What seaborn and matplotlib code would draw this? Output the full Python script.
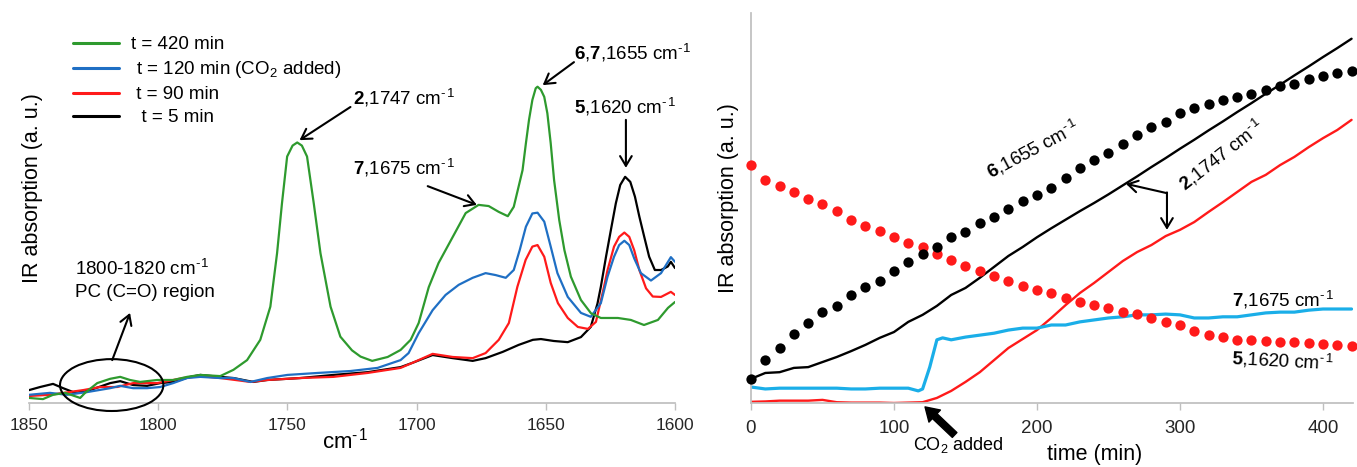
import matplotlib
matplotlib.use("Agg")
import matplotlib.pyplot as plt
from matplotlib.patches import Ellipse
import seaborn as sns

# ---- left panel: IR spectra (wavenumber, absorbance a.u.) ----
green_wn = [1850, 1844.6, 1840.7, 1836, 1830.2, 1828.3, 1823.6, 1818.6, 1814.7, 1810.9,
            1807, 1800.4, 1794.2, 1788.8, 1783.7, 1776, 1770.9, 1765.6, 1760.5, 1756.6,
            1754, 1752.1, 1750.1, 1748, 1746.2, 1744.4, 1742.4, 1739.8, 1737.2, 1733.3,
            1729.5, 1725, 1721.7, 1717.2, 1711.2, 1706.2, 1702.3, 1699.2, 1695.3, 1691.5,
            1686, 1681, 1676, 1672.1, 1668.2, 1664.7, 1662.4, 1659, 1657.7, 1656.5,
            1655.2, 1653.9, 1653.2, 1651.9, 1650.6, 1649.4, 1648.1, 1646.8, 1644.8, 1642.8,
            1640.3, 1636.4, 1632.5, 1628.7, 1622.1, 1617.1, 1612, 1606.6, 1602.7, 1600]
green_abs = [1.3, 1.0, 2.1, 2.6, 1.3, 2.6, 5.1, 6.2, 6.7, 5.9,
             5.4, 5.9, 5.9, 6.7, 7.2, 6.9, 8.5, 11.0, 16.2, 24.7,
             38.4, 51.2, 63.2, 66.0, 66.8, 66.0, 63.2, 51.2, 38.4, 24.7,
             17.0, 13.5, 11.9, 10.8, 11.8, 13.6, 16.2, 20.5, 29.7, 35.9,
             42.6, 48.7, 50.8, 50.5, 49.0, 47.9, 50.3, 59.7, 66.6, 72.6,
             77.7, 80.7, 81.1, 80.3, 78.5, 74.3, 66.6, 57.2, 46.9, 39.2,
             32.4, 26.4, 23.0, 21.8, 21.8, 21.3, 20.0, 21.3, 24.4, 25.9]

blue_wn = [1850, 1841.9, 1835.3, 1827.5, 1818.6, 1814.7, 1809.7, 1804.3, 1799.2, 1794.2,
           1788.8, 1783.7, 1776, 1770.9, 1764.3, 1757.8, 1750, 1738.4, 1725.6, 1715.1,
           1706.2, 1703.1, 1699.2, 1693.8, 1688.8, 1683.7, 1678.3, 1673.3, 1669.4, 1665.5,
           1662.4, 1660.1, 1657.7, 1655.2, 1653.2, 1650.6, 1648.1, 1645.5, 1641.5, 1636.4,
           1632.6, 1628.7, 1626.1, 1623.6, 1621.6, 1619.6, 1617.7, 1615.8, 1613.2, 1609.3,
           1605.4, 1601.6, 1600]
blue_abs = [2.1, 2.6, 2.1, 2.8, 3.8, 4.4, 3.8, 3.8, 4.1, 5.1,
            6.4, 6.7, 6.4, 6.4, 5.4, 6.4, 7.2, 7.7, 8.2, 9.0,
            11.0, 12.8, 17.9, 23.8, 27.7, 30.3, 32.1, 33.3, 32.8, 32.1,
            34.1, 39.2, 45.2, 48.6, 48.8, 46.5, 40.1, 33.3, 27.2, 23.1,
            22.1, 25.6, 32.4, 37.5, 40.5, 41.6, 40.5, 37.1, 33.3, 31.4,
            33.3, 37.4, 36.2]

red_wn = [1850, 1841.9, 1829.1, 1822.5, 1815.9, 1809.7, 1800.4, 1790.3, 1783.7, 1776,
          1764.3, 1757.8, 1745, 1732.2, 1719, 1706.2, 1701.6, 1693.8, 1686, 1678.3,
          1673.3, 1668.2, 1664.3, 1661, 1657.8, 1655.2, 1653.2, 1650.6, 1648.1, 1645.3,
          1641.5, 1637.6, 1633.7, 1630.6, 1627.5, 1626.1, 1623.6, 1621.6, 1619.6, 1617.7,
          1615.8, 1613.8, 1611.2, 1608.6, 1605.4, 1601.6, 1600]
red_abs = [1.8, 2.1, 3.3, 4.1, 4.1, 5.1, 5.1, 6.4, 6.9, 6.4,
           5.4, 5.9, 6.4, 6.7, 7.7, 9.0, 10.3, 12.6, 11.8, 11.5,
           12.8, 16.2, 20.5, 29.8, 36.7, 40.1, 40.5, 37.5, 30.8, 25.6,
           21.8, 19.5, 19.0, 20.8, 29.7, 34.1, 40.1, 42.6, 43.7, 42.6,
           39.2, 34.1, 29.4, 27.3, 27.2, 28.5, 27.7]

black_wn = [1850, 1845.7, 1840.7, 1836.8, 1832.9, 1826.4, 1818.6, 1814.7, 1809.7, 1804.3,
            1799.2, 1794.2, 1787.6, 1783.7, 1776, 1770.9, 1763.2, 1757.8, 1745, 1732.2,
            1719, 1706.2, 1701.6, 1693.8, 1686, 1678.3, 1673.3, 1666.7, 1660.5, 1655,
            1651.9, 1646.9, 1641.5, 1636.4, 1632.6, 1630, 1628.7, 1626.7, 1624.8, 1622.9,
            1621.2, 1619.3, 1617.3, 1615.5, 1613.8, 1611.9, 1610, 1607.8, 1605.4, 1602.8,
            1601.6, 1600]
black_abs = [3.3, 4.1, 4.9, 3.8, 2.8, 3.3, 5.1, 5.6, 4.6, 4.4,
             5.1, 5.4, 6.7, 7.2, 6.7, 6.4, 5.4, 5.9, 6.4, 7.2,
             7.9, 9.2, 10.3, 12.3, 11.5, 10.8, 11.5, 13.1, 14.9, 16.2,
             16.4, 15.9, 15.6, 16.9, 19.5, 25.5, 29.8, 37.5, 44.4, 51.2,
             55.9, 58.0, 56.7, 52.9, 47.8, 42.6, 37.5, 34.1, 34.1, 35.0,
             36.2, 34.6]

spectra_labels = ["t = 420 min", " t = 120 min (CO$_2$ added)", " t = 90 min", "  t = 5 min"]

# ---- right panel: kinetics (time in min, absorbance a.u.) ----
time_dots = [0, 10, 20, 30, 40, 50, 60, 70, 80, 90, 100, 110, 120, 130, 140, 150, 160, 170,
             180, 190, 200, 210, 220, 230, 240, 250, 260, 270, 280, 290, 300, 310, 320, 330,
             340, 350, 360, 370, 380, 390, 400, 410, 420]
dots_1655 = [6.2, 11.0, 14.1, 17.7, 20.5, 23.3, 24.9, 27.7, 29.7, 31.3, 33.8, 36.2, 38.2, 40.0,
             42.6, 43.8, 46.2, 47.7, 49.7, 51.8, 53.3, 55.1, 57.8, 60.3, 62.3, 64.1, 66.4, 68.7,
             70.8, 72.1, 74.4, 75.6, 76.7, 77.7, 78.5, 79.3, 80.3, 81.3, 81.8, 83.1, 83.8, 84.6,
             85.1]
dots_1620 = [61.0, 57.2, 55.6, 54.1, 52.3, 51.0, 49.2, 46.9, 45.4, 44.1, 42.6, 41.0, 40.0, 38.2,
             36.7, 35.1, 33.8, 32.6, 31.3, 30.0, 29.0, 28.2, 26.9, 25.9, 25.1, 24.4, 23.3, 22.8,
             21.8, 20.8, 20.0, 18.5, 17.4, 16.9, 16.2, 16.2, 15.9, 15.6, 15.6, 15.4, 15.1, 14.9,
             14.6]
line_1747_black = [6.2, 7.7, 7.9, 9.0, 9.2, 10.5, 11.8, 13.3, 14.9, 16.7, 18.2, 20.8, 22.6, 24.9,
                   27.7, 29.5, 32.1, 34.9, 37.7, 40.0, 42.5, 44.8, 47.0, 49.2, 51.3, 53.5, 55.8,
                   58.1, 60.5, 62.8, 65.2, 67.5, 69.9, 72.2, 74.6, 76.9, 79.3, 81.6, 84.0, 86.3,
                   88.7, 91.0, 93.4]
line_1747_red = [0.3, 0.4, 0.6, 0.6, 0.6, 0.8, 0.2, 0.1, 0.1, 0.1, 0.0, 0.1, 0.2, 1.3, 3.1, 5.4,
                 7.9, 11.0, 14.1, 16.4, 18.7, 21.8, 25.1, 28.2, 30.8, 33.6, 36.4, 38.7, 40.5,
                 42.8, 44.4, 46.4, 49.0, 51.5, 54.1, 56.7, 58.5, 61.0, 63.1, 65.6, 67.9, 70.0,
                 72.6]
time_1675 = [0, 10, 20, 30, 40, 50, 60, 70, 80, 90, 100, 110, 117, 120, 125, 130, 134, 140, 150,
             160, 170, 180, 190, 200, 210, 220, 230, 240, 250, 260, 270, 280, 290, 300, 310,
             320, 330, 340, 350, 360, 370, 380, 390, 400, 410, 420]
line_1675 = [4.1, 3.6, 3.8, 3.8, 3.8, 3.8, 3.8, 3.6, 3.6, 3.8, 3.8, 3.8, 3.1, 3.6, 9.2, 16.2,
             16.7, 16.2, 16.9, 17.4, 17.9, 18.7, 19.2, 19.2, 20.0, 20.0, 20.8, 21.3, 21.8, 22.1,
             22.6, 22.6, 22.8, 22.6, 21.8, 21.8, 22.1, 22.1, 22.6, 23.1, 23.3, 23.3, 23.8, 24.1,
             24.1, 24.1]

GREEN, BLUE, RED, CYAN = "#2e9a2e", "#1f6fc4", "#ff1a1a", "#1aaee8"
AXIS_GREY = "#bfbfbf"
CM = "cm$^{\u2010\u200a1}$"

sns.set_theme(style="white")
plt.rcParams['font.family'] = ['Liberation Sans', 'DejaVu Sans']
plt.rcParams['mathtext.fontset'] = 'custom'
plt.rcParams['mathtext.rm'] = 'Liberation Sans'
plt.rcParams['mathtext.bf'] = 'Liberation Sans:bold'
plt.rcParams['mathtext.it'] = 'Liberation Sans:italic'
plt.rcParams['text.color'] = 'black'

W, H = 1357, 467
fig = plt.figure(figsize=(W / 100, H / 100), dpi=100)


def px_box(x0, y0, x1, y1):
    return [x0 / W, 1 - y1 / H, (x1 - x0) / W, (y1 - y0) / H]


ax1 = fig.add_axes(px_box(29, 13, 675, 403))
ax2 = fig.add_axes(px_box(751, 13, 1353, 403))

# ---------------- left panel ----------------
sns.lineplot(x=black_wn, y=black_abs, ax=ax1, color="black", lw=1.6, label=spectra_labels[3])
sns.lineplot(x=red_wn, y=red_abs, ax=ax1, color=RED, lw=1.6, label=spectra_labels[2])
sns.lineplot(x=blue_wn, y=blue_abs, ax=ax1, color=BLUE, lw=1.6, label=spectra_labels[1])
sns.lineplot(x=green_wn, y=green_abs, ax=ax1, color=GREEN, lw=1.6, label=spectra_labels[0])

ax1.set_xlim(1850, 1600)
ax1.set_ylim(0, 100)
ax1.set_xticks([1850, 1800, 1750, 1700, 1650, 1600])
ax1.set_yticks([])
ax1.set_xlabel("")
ax1.set_ylabel("")
for s in ["top", "right", "left"]:
    ax1.spines[s].set_visible(False)
ax1.spines["bottom"].set_color(AXIS_GREY)
ax1.tick_params(axis="x", direction="out", length=5, width=1, color=AXIS_GREY,
                labelsize=12.5, labelcolor="#262626", pad=6, bottom=True)

handles, labels = ax1.get_legend_handles_labels()
order = [3, 2, 1, 0]
ax1.legend([handles[i] for i in order], [labels[i] for i in order],
           loc="upper left", bbox_to_anchor=(0.057, 0.96), borderaxespad=0,
           frameon=False, fontsize=13.5, handlelength=2.45, handletextpad=0.6,
           labelspacing=0.32)
for line in ax1.get_legend().get_lines():
    line.set_linewidth(2.2)

ax1.text(0.005, 0.551, "IR absorption (a. u.)", transform=ax1.transAxes,
         rotation=90, ha="center", va="center", fontsize=15.5)
ax1.text(0.489, -0.095, CM, transform=ax1.transAxes,
         ha="center", va="center", fontsize=16)

arrow_kw = dict(arrowstyle="->,head_length=0.5,head_width=0.3", lw=1.5, color="black",
                shrinkA=0, shrinkB=0, mutation_scale=14)

ax1.text(1724.8, 78.2, r"$\mathbf{2}$,1747 " + CM, fontsize=13.5, ha="left", va="center")
ax1.annotate("", xy=(1745.3, 67.4), xytext=(1725.6, 75.9), arrowprops=arrow_kw)

ax1.text(1639.1, 89.7, r"$\mathbf{6}$,$\mathbf{7}$,1655 " + CM, fontsize=13.5,
         ha="left", va="center")
ax1.annotate("", xy=(1651.2, 81.5), xytext=(1639.1, 87.4), arrowprops=arrow_kw)

ax1.text(1639.1, 75.9, r"$\mathbf{5}$,1620 " + CM, fontsize=13.5, ha="left", va="center")
ax1.annotate("", xy=(1619, 60.3), xytext=(1619, 72.6), arrowprops=arrow_kw)

ax1.text(1724.8, 60.3, r"$\mathbf{7}$,1675 " + CM, fontsize=13.5, ha="left", va="center")
ax1.annotate("", xy=(1676.7, 50.8), xytext=(1695.7, 55.6), arrowprops=arrow_kw)

ax1.text(1832.2, 31.5, "1800-1820 " + CM + "\nPC (C=O) region", fontsize=13.5,
         ha="left", va="center", linespacing=1.4)
ax1.annotate("", xy=(1810.9, 23.1), xytext=(1817.8, 11.0), arrowprops=arrow_kw)
ax1.add_patch(Ellipse((1818, 4.6), width=40, height=13.3, fill=False, ec="black",
                      lw=1.5, clip_on=False, zorder=5))

# ---------------- right panel ----------------
sns.lineplot(x=time_dots, y=line_1747_red, ax=ax2, color=RED, lw=1.7, legend=False)
sns.lineplot(x=time_1675, y=line_1675, ax=ax2, color=CYAN, lw=2.3, legend=False)
sns.lineplot(x=time_dots, y=line_1747_black, ax=ax2, color="black", lw=1.7, legend=False)
sns.scatterplot(x=time_dots, y=dots_1620, ax=ax2, color=RED, s=55, linewidth=0,
                clip_on=False, zorder=4, legend=False)
sns.scatterplot(x=time_dots, y=dots_1655, ax=ax2, color="black", s=55, linewidth=0,
                clip_on=False, zorder=4, legend=False)

ax2.set_xlim(0, 421)
ax2.set_ylim(0, 100)
ax2.set_xticks([0, 100, 200, 300, 400])
ax2.set_yticks([])
ax2.set_xlabel("")
ax2.set_ylabel("")
for s in ["top", "right"]:
    ax2.spines[s].set_visible(False)
for s in ["left", "bottom"]:
    ax2.spines[s].set_color(AXIS_GREY)
ax2.tick_params(axis="x", direction="out", length=5, width=1, color=AXIS_GREY,
                labelsize=13.5, labelcolor="#262626", pad=7, bottom=True)

ax2.text(-0.038, 0.526, "IR absorption (a. u.)", transform=ax2.transAxes,
         rotation=90, ha="center", va="center", fontsize=15.5)
ax2.text(0.571, -0.133, "time (min)", transform=ax2.transAxes,
         ha="center", va="center", fontsize=15.5)

ax2.text(197, 65.0, r"$\mathbf{6}$,1655 " + CM, fontsize=13.5, rotation=28,
         rotation_mode="anchor", ha="center", va="center")
ax2.text(329, 63.6, r"$\mathbf{2}$,1747 " + CM, fontsize=13.5, rotation=38,
         rotation_mode="anchor", ha="center", va="center")
ax2.annotate("", xy=(262.2, 56.2), xytext=(290.9, 53.8), arrowprops=arrow_kw)
ax2.annotate("", xy=(290.9, 44.4), xytext=(290.9, 54.0), arrowprops=arrow_kw)

ax2.text(336.4, 26.4, r"$\mathbf{7}$,1675 " + CM, fontsize=13.5, ha="left", va="center")
ax2.text(336.4, 11.5, r"$\mathbf{5}$,1620 " + CM, fontsize=13.5, ha="left", va="center",
         rotation=-3, rotation_mode="anchor")

ax2.text(144.8, -10.8, "CO$_2$ added", fontsize=13, ha="center", va="center", clip_on=False)
ax2.annotate("", xy=(121.7, -1.0), xytext=(142.4, -8.2), annotation_clip=False,
             arrowprops=dict(arrowstyle="simple,head_width=1.0,head_length=0.8,tail_width=0.4",
                             fc="black", ec="black", mutation_scale=12, shrinkA=0, shrinkB=0))

fig.savefig("out.png", dpi=100)
